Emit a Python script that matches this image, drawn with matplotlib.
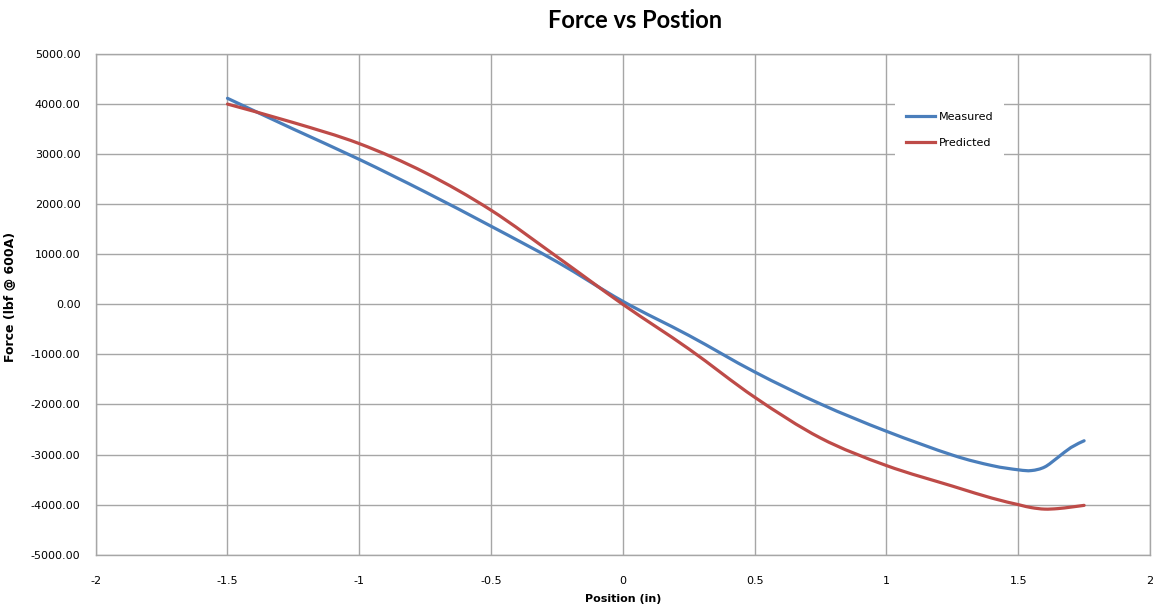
import numpy as np
import matplotlib
matplotlib.use("Agg")
import matplotlib.pyplot as plt
from matplotlib.path import Path
from matplotlib.patches import PathPatch
from matplotlib.lines import Line2D
from matplotlib.ticker import FormatStrFormatter, FuncFormatter

# Data
position = [-1.5, -1.25, -1.0, -0.75, -0.5, -0.25, 0.0, 0.25, 0.5, 0.75, 1.0,
            1.25, 1.4, 1.5, 1.55, 1.6, 1.65, 1.7, 1.75]
measured = [4115, 3500, 2895, 2245, 1560, 850, 60, -620, -1350, -1990, -2535,
            -3010, -3220, -3305, -3320, -3250, -3060, -2860, -2725]
predicted = [4000, 3630, 3210, 2630, 1880, 950, 0, -890, -1855, -2670, -3220,
             -3630, -3870, -4000, -4060, -4090, -4080, -4050, -4015]
series_names = ["Measured", "Predicted"]
colors = ["#4A7EBB", "#BE4B48"]

title = "Force vs Postion"
xlabel = "Position (in)"
ylabel = "Force (lbf @ 600A)"


def smooth_path(x, y):
    """Excel-style smoothed line: Catmull-Rom converted to cubic Bezier."""
    pts = np.column_stack([x, y]).astype(float)
    n = len(pts)
    verts = [pts[0]]
    codes = [Path.MOVETO]
    for i in range(n - 1):
        p0 = pts[i - 1] if i > 0 else pts[i]
        p1 = pts[i]
        p2 = pts[i + 1]
        p3 = pts[i + 2] if i + 2 < n else pts[i + 1]
        c1 = p1 + (p2 - p0) / 6.0
        c2 = p2 - (p3 - p1) / 6.0
        verts += [c1, c2, p2]
        codes += [Path.CURVE4] * 3
    return Path(verts, codes)


fig = plt.figure(figsize=(11.53, 6.06), dpi=100)
ax = fig.add_axes([0.083, 0.0847, 0.9144, 0.8262])

grid_color = "#A6A6A6"
for s in ax.spines.values():
    s.set_color(grid_color)
    s.set_linewidth(1.0)

ax.set_xlim(-2, 2)
ax.set_ylim(-5000, 5000)
ax.set_xticks(np.arange(-2, 2.01, 0.5))
ax.set_yticks(np.arange(-5000, 5001, 1000))
ax.yaxis.set_major_formatter(FormatStrFormatter("%.2f"))
ax.xaxis.set_major_formatter(FuncFormatter(lambda v, p: f"{v:g}"))
ax.grid(True, color=grid_color, linewidth=1.0)
ax.set_axisbelow(True)
ax.tick_params(axis="both", length=0, labelsize=8, colors="#000000")
ax.tick_params(axis="x", pad=15)
ax.tick_params(axis="y", pad=11)

for ys, c in zip([measured, predicted], colors):
    patch = PathPatch(smooth_path(position, ys), fill=False, edgecolor=c,
                      linewidth=2.3, capstyle="round", joinstyle="round",
                      zorder=3)
    ax.add_patch(patch)

handles = [Line2D([0], [0], color=c, linewidth=2.3) for c in colors]
leg = ax.legend(handles, series_names, loc="upper left",
                bbox_to_anchor=(0.753, 0.918), frameon=True, fontsize=8,
                handlelength=2.6, handletextpad=0.3, labelspacing=1.45,
                borderpad=1.0, fancybox=False)
leg.get_frame().set_edgecolor("none")
leg.get_frame().set_facecolor("white")
leg.get_frame().set_alpha(1.0)

fig.text(0.551, 0.966, title, ha="center", va="center", fontsize=17,
         fontweight="bold", family=["Lato", "DejaVu Sans"])
ax.set_xlabel(xlabel, fontsize=8, fontweight="bold")
ax.xaxis.set_label_coords(0.5, -0.078)
ax.set_ylabel(ylabel, fontsize=9, fontweight="bold")
ax.yaxis.set_label_coords(-0.075, 0.515)

fig.savefig("out.png", dpi=100)
